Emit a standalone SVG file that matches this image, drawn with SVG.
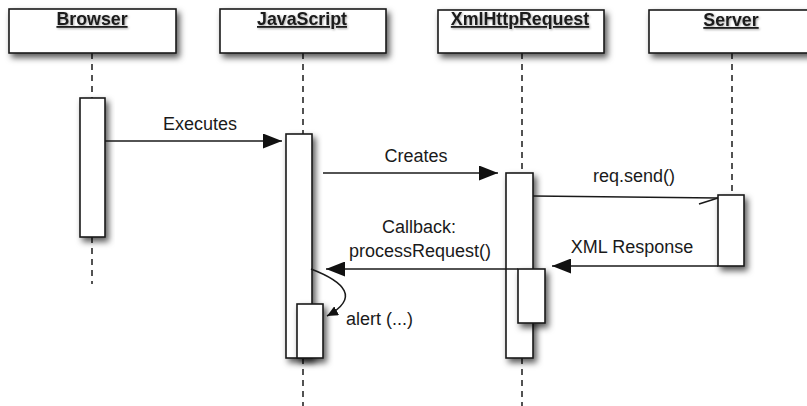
<svg xmlns="http://www.w3.org/2000/svg" width="807" height="406" viewBox="0 0 807 406">
<style>
.box{fill:#fff;stroke:#1a1a1a;stroke-width:1.6}
.life{stroke:#1a1a1a;stroke-width:1.5;stroke-dasharray:6 5;fill:none}
.msg{stroke:#1a1a1a;stroke-width:1.5;fill:none}
.hd{font-family:"Liberation Sans",Arial,sans-serif;font-weight:bold;font-size:17.8px;text-decoration:underline;fill:#1a1a1a;text-anchor:middle}
.lb{font-family:"Liberation Sans",Arial,sans-serif;font-size:18px;fill:#1a1a1a;text-anchor:middle}
</style>
<defs>
<filter id="sh" x="-30%" y="-30%" width="170%" height="170%">
<feDropShadow dx="3" dy="4" stdDeviation="3" flood-color="#000" flood-opacity="0.65"/>
</filter>
<filter id="tsh" x="-10%" y="-20%" width="120%" height="150%">
<feDropShadow dx="1" dy="1" stdDeviation="0.8" flood-color="#000" flood-opacity="0.35"/>
</filter>
<marker id="ah" markerUnits="userSpaceOnUse" markerWidth="20" markerHeight="15" refX="19" refY="7.5" orient="auto">
<path d="M0,0 L19,7.5 L0,15 z" fill="#111"/>
</marker>
<marker id="ahs" markerUnits="userSpaceOnUse" markerWidth="12" markerHeight="10" refX="11" refY="5" orient="auto">
<path d="M0,0 L11,5 L0,10 z" fill="#111"/>
</marker>
</defs>

<g id="lifelines">
<line class="life" x1="92" y1="53" x2="92" y2="98"/>
<line class="life" x1="92" y1="237" x2="92" y2="284"/>
<line class="life" x1="303" y1="53" x2="303" y2="134"/>
<line class="life" x1="303" y1="358" x2="303" y2="406"/>
<line class="life" x1="522" y1="53" x2="522" y2="173"/>
<line class="life" x1="522" y1="358" x2="522" y2="406"/>
<line class="life" x1="732" y1="53" x2="732" y2="195"/>
</g>

<g id="browser">
<rect class="box" x="9" y="9" width="167" height="44" filter="url(#sh)"/>
<text class="hd" x="92" y="25" filter="url(#tsh)">Browser</text>
<rect class="box" x="80" y="98" width="25" height="139" filter="url(#sh)"/>
</g>

<g id="javascript">
<rect class="box" x="220" y="9" width="166" height="44" filter="url(#sh)"/>
<text class="hd" x="302" y="25" filter="url(#tsh)">JavaScript</text>
<rect class="box" x="286" y="134" width="26" height="224" filter="url(#sh)"/>
<rect class="box" x="297" y="304" width="26" height="54" filter="url(#sh)"/>
</g>

<g id="xmlhttprequest">
<rect class="box" x="438" y="10" width="166" height="43" filter="url(#sh)"/>
<text class="hd" x="520" y="25" filter="url(#tsh)">XmlHttpRequest</text>
<rect class="box" x="506" y="173" width="27" height="185" filter="url(#sh)"/>
<rect class="box" x="518" y="269" width="27" height="54" filter="url(#sh)"/>
</g>

<g id="server">
<rect class="box" x="649" y="10" width="170" height="43" filter="url(#sh)"/>
<text class="hd" x="731" y="26" filter="url(#tsh)">Server</text>
<rect class="box" x="718" y="195" width="26" height="71" filter="url(#sh)"/>
</g>

<g id="connectors">
<line class="msg" x1="105" y1="141" x2="282" y2="141" marker-end="url(#ah)"/>
<text class="lb" x="200" y="130">Executes</text>
<line class="msg" x1="323" y1="173" x2="498" y2="173" marker-end="url(#ah)"/>
<text class="lb" x="416" y="162">Creates</text>
<line class="msg" x1="533" y1="196" x2="718" y2="198"/>
<line class="msg" x1="699" y1="204" x2="718" y2="198"/>
<text class="lb" x="634" y="182">req.send()</text>
<line class="msg" x1="718" y1="266" x2="552" y2="266" marker-end="url(#ah)"/>
<text class="lb" x="632" y="253">XML Response</text>
<line class="msg" x1="518" y1="269" x2="326" y2="269" marker-end="url(#ah)"/>
<text class="lb" x="419" y="233">Callback:</text>
<text class="lb" x="420" y="257">processRequest()</text>
<path class="msg" d="M311,269 C345,282 360,298 327,316" marker-end="url(#ahs)"/>
<text class="lb" x="346" y="325" style="text-anchor:start">alert (...)</text>
</g>
</svg>
